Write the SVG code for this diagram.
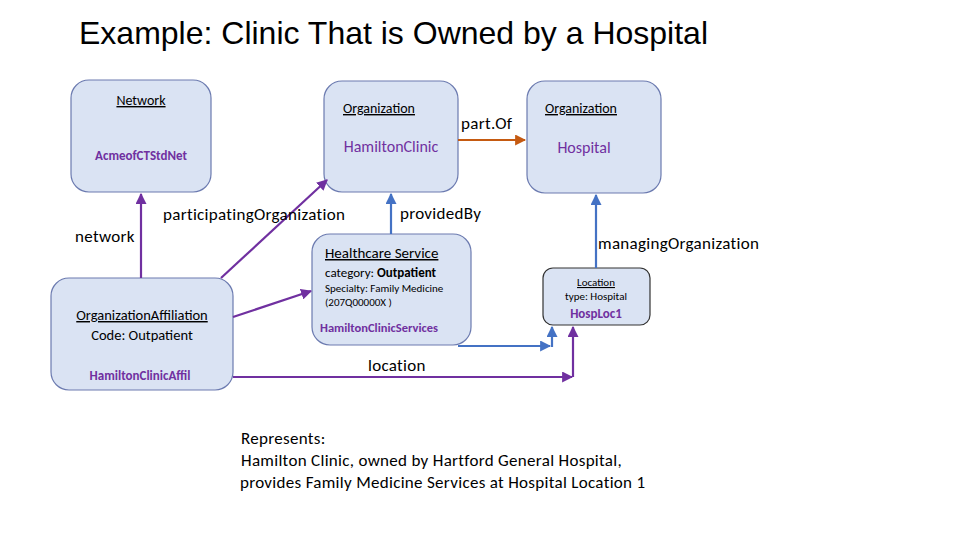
<svg xmlns="http://www.w3.org/2000/svg" width="960" height="540" viewBox="0 0 960 540">
<style>
.n{fill:#dae3f3;stroke:#6c7bb0;stroke-width:1.2}
text{font-family:Carlito,"Liberation Sans",sans-serif;fill:#000}
.p{fill:#7030a0;font-weight:bold}
.u{text-decoration:underline}
.pl{stroke:#7030a0;stroke-width:2.2;fill:none}
.bl{stroke:#4472c4;stroke-width:2.2;fill:none}
</style>
<defs>
<marker id="ap" viewBox="0 0 10 10" refX="9" refY="5" markerWidth="5" markerHeight="5" orient="auto"><path d="M0,0L10,5L0,10z" fill="#7030a0"/></marker>
<marker id="ab" viewBox="0 0 10 10" refX="9" refY="5" markerWidth="5" markerHeight="5" orient="auto"><path d="M0,0L10,5L0,10z" fill="#4472c4"/></marker>
<marker id="ao" viewBox="0 0 10 10" refX="9" refY="5" markerWidth="5" markerHeight="5" orient="auto"><path d="M0,0L10,5L0,10z" fill="#c55a11"/></marker>
</defs>
<rect width="960" height="540" fill="#fff"/>
<text x="79" y="44" font-size="32" style="font-family:'Liberation Sans',sans-serif;font-weight:300" fill="#222">Example:  Clinic That is Owned by a Hospital</text>
<g id="network"><rect class="n" x="71" y="80" width="140" height="112" rx="18"/><text x="141" y="105" font-size="14" text-anchor="middle" class="u">Network</text><text x="141" y="160" font-size="13" text-anchor="middle" class="p">AcmeofCTStdNet</text></g>
<g id="hamilton"><rect class="n" x="324" y="81" width="134" height="111" rx="18"/><text x="379" y="113" font-size="14" text-anchor="middle" class="u">Organization</text><text x="391" y="152" font-size="16" text-anchor="middle" style="fill:#7030a0">HamiltonClinic</text></g>
<g id="hospital"><rect class="n" x="527" y="81" width="134" height="112" rx="18"/><text x="581" y="113" font-size="14" text-anchor="middle" class="u">Organization</text><text x="584" y="153" font-size="16" text-anchor="middle" style="fill:#7030a0">Hospital</text></g>
<g id="affil"><rect class="n" x="51" y="278" width="182" height="112" rx="18"/><text x="142" y="320" font-size="14.5" text-anchor="middle" class="u">OrganizationAffiliation</text><text x="142" y="340" font-size="14.5" text-anchor="middle">Code: Outpatient</text><text x="140" y="380" font-size="13" text-anchor="middle" class="p">HamiltonClinicAffil</text></g>
<g id="service"><rect class="n" x="312" y="234" width="159" height="111" rx="18"/><text x="325" y="258" font-size="15" class="u">Healthcare Service</text><text x="325" y="277" font-size="13">category: <tspan font-weight="bold">Outpatient</tspan></text><text x="325" y="292" font-size="11">Specialty: Family Medicine</text><text x="325" y="306" font-size="11">(207Q00000X )</text><text x="320" y="332" font-size="12.5" class="p">HamiltonClinicServices</text></g>
<g id="location"><rect class="n" x="543" y="268" width="107" height="57" rx="10" style="stroke:#333"/><text x="596" y="286" font-size="11" text-anchor="middle" class="u">Location</text><text x="596" y="300" font-size="11" text-anchor="middle">type: Hospital</text><text x="596" y="318" font-size="13" text-anchor="middle" class="p">HospLoc1</text></g>
<g id="connectors">
<path class="pl" d="M141,278V194" marker-end="url(#ap)"/>
<path class="pl" d="M221,278L327,180" marker-end="url(#ap)"/>
<path class="pl" d="M233,317L311,291" marker-end="url(#ap)"/>
<path class="bl" d="M391,234V194" marker-end="url(#ab)"/>
<path d="M458,140H525" stroke="#c55a11" stroke-width="2.2" marker-end="url(#ao)"/>
<path class="bl" d="M596,268V195" marker-end="url(#ab)"/>
<path class="bl" d="M458,346H550" marker-end="url(#ab)"/>
<path class="bl" d="M552,347V327" marker-end="url(#ab)"/>
<path class="pl" d="M233,377H572" marker-end="url(#ap)"/>
<path class="pl" d="M573,377V327" marker-end="url(#ap)"/>
</g>
<g font-size="17" letter-spacing="0.3">
<text x="75" y="242">network</text>
<text x="163" y="220">participatingOrganization</text>
<text x="400" y="219">providedBy</text>
<text x="461" y="129">part.Of</text>
<text x="598" y="249">managingOrganization</text>
<text x="368" y="371">location</text>
<text x="241" y="444">Represents:</text>
<text x="241" y="466">Hamilton Clinic, owned by Hartford General Hospital,</text>
<text x="240" y="488">provides Family Medicine Services at Hospital Location 1</text>
</g>
</svg>
